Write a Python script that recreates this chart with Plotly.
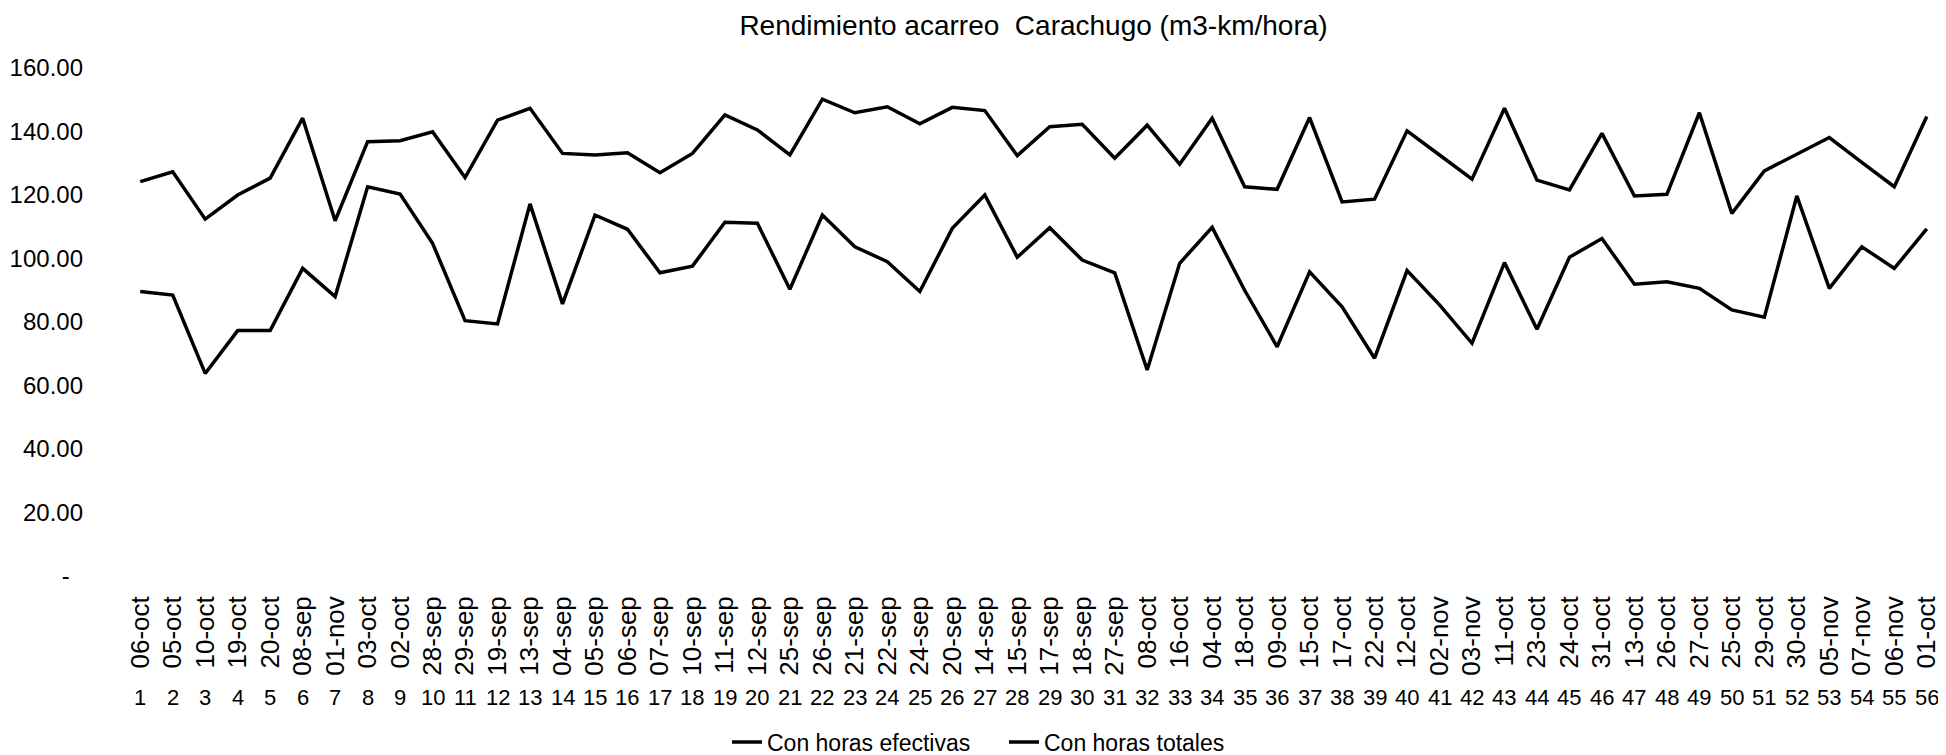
import plotly.graph_objects as go

title = "Rendimiento acarreo \u00a0Carachugo (m3-km/hora)"

fechas = ["06-oct", "05-oct", "10-oct", "19-oct", "20-oct", "08-sep", "01-nov", "03-oct", "02-oct", "28-sep",
          "29-sep", "19-sep", "13-sep", "04-sep", "05-sep", "06-sep", "07-sep", "10-sep", "11-sep", "12-sep",
          "25-sep", "26-sep", "21-sep", "22-sep", "24-sep", "20-sep", "14-sep", "15-sep", "17-sep", "18-sep",
          "27-sep", "08-oct", "16-oct", "04-oct", "18-oct", "09-oct", "15-oct", "17-oct", "22-oct", "12-oct",
          "02-nov", "03-nov", "11-oct", "23-oct", "24-oct", "31-oct", "13-oct", "26-oct", "27-oct", "25-oct",
          "29-oct", "30-oct", "05-nov", "07-nov", "06-nov", "01-oct"]

numeros = list(range(1, 57))

con_horas_efectivas = [124.2, 127.3, 112.4, 120.0, 125.3, 144.2, 111.9, 136.8, 137.1, 139.9,
                       125.5, 143.6, 147.3, 133.1, 132.6, 133.3, 127.0, 133.1, 145.2, 140.5,
                       132.6, 150.2, 145.9, 147.8, 142.4, 147.6, 146.6, 132.4, 141.5, 142.3,
                       131.6, 142.0, 129.7, 144.2, 122.6, 121.8, 144.4, 117.8, 118.7, 140.2,
                       132.6, 125.0, 147.3, 124.7, 121.6, 139.4, 119.7, 120.2, 145.9, 114.2,
                       127.6, 132.7, 138.1, 130.3, 122.6, 144.7]

con_horas_totales = [89.6, 88.5, 63.8, 77.3, 77.3, 96.9, 88.0, 122.6, 120.3, 104.8,
                     80.4, 79.4, 117.2, 85.7, 113.7, 109.2, 95.5, 97.6, 111.4, 111.1,
                     90.3, 113.7, 103.7, 99.0, 89.6, 109.5, 120.0, 100.4, 109.7, 99.5,
                     95.5, 64.9, 98.5, 109.8, 90.0, 72.2, 95.8, 84.8, 68.6, 96.2,
                     85.4, 73.3, 98.7, 77.7, 100.4, 106.3, 91.9, 92.7, 90.6, 83.8,
                     81.5, 119.7, 90.6, 103.7, 96.9, 109.3]

y_ticks = [0, 20, 40, 60, 80, 100, 120, 140, 160]
y_ticktext = [f"{v:.2f}" if v else "-\u00a0\u00a0" for v in y_ticks]

FONT = "Liberation Sans, Arial, sans-serif"

# page body has an 8px margin: figure sized so the drawing lands where the reference has it
W, H = 1938, 747

fig = go.Figure()
fig.add_trace(go.Scatter(x=numeros, y=con_horas_efectivas, mode="lines",
                         name="Con horas efectivas", line=dict(color="black", width=3.5)))
fig.add_trace(go.Scatter(x=numeros, y=con_horas_totales, mode="lines",
                         name="Con horas totales", line=dict(color="black", width=3.5)))

for n in numeros:
    fig.add_annotation(x=n, y=-0.240, xref="x", yref="paper", text=str(n),
                       showarrow=False, yanchor="middle", xanchor="center",
                       font=dict(size=22, color="black", family=FONT))

fig.update_layout(
    width=W, height=H,
    paper_bgcolor="white", plot_bgcolor="white",
    margin=dict(l=116, r=3, t=60, b=179, autoexpand=False),
    title=dict(text=title, x=0.5, xref="paper", xanchor="center", y=1 - 17 / H, yanchor="middle",
               font=dict(size=28, color="black", family=FONT)),
    font=dict(family=FONT, color="black"),
    showlegend=True,
    legend=dict(orientation="h", x=0.3315, xanchor="left", xref="paper",
                y=1 - 734 / H, yanchor="middle", yref="container",
                font=dict(size=23, color="black", family=FONT), itemwidth=30,
                entrywidth=232, entrywidthmode="pixels"),
    xaxis=dict(range=[0.5, 56.5], tickmode="array", tickvals=numeros, ticktext=fechas,
               tickangle=-90, showgrid=False, zeroline=False, showline=False, ticks="",
               tickfont=dict(size=26, color="black", family=FONT), ticklabelstandoff=14,
               automargin=False, fixedrange=True),
    yaxis=dict(range=[0, 160], tickmode="array", tickvals=y_ticks, ticktext=y_ticktext,
               showgrid=False, zeroline=False, showline=False, ticks="",
               tickfont=dict(size=24, color="black", family=FONT), ticklabelstandoff=40,
               automargin=False, fixedrange=True),
)

fig.write_html("out.html")
